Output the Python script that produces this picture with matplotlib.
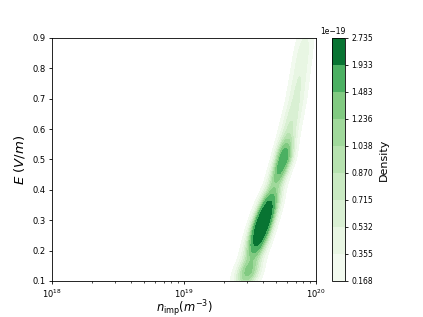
import numpy as np
import matplotlib
matplotlib.use("Agg")
from matplotlib import pyplot as plt

# colourbar / contour levels (units of 1e-19)
levels = [0.168, 0.355, 0.532, 0.715, 0.870, 1.038, 1.236, 1.483, 1.933, 2.735]

# ridge of the distribution: log10(n_imp) centre for a given E
ridge_E = [0.05, 0.10, 0.288, 0.499, 0.697, 0.902, 0.95]
ridge_logn = [19.43, 19.465, 19.595, 19.752, 19.85, 19.92, 19.935]

# density lumps along the ridge
blob_E = [0.125, 0.21, 0.29, 0.37, 0.44, 0.50, 0.60, 0.72, 0.86]
blob_peak = [1.2, 0.8, 2.7, 0.8, 0.45, 1.6, 0.55, 0.45, 0.4]
blob_sE = [0.035, 0.04, 0.055, 0.04, 0.03, 0.045, 0.06, 0.07, 0.07]
blob_su = [0.06, 0.055, 0.05, 0.05, 0.045, 0.045, 0.05, 0.05, 0.05]


def density(logn, E):
    u = logn - np.interp(E, ridge_E, ridge_logn)
    d = np.zeros_like(E)
    for e0, pk, se, su in zip(blob_E, blob_peak, blob_sE, blob_su):
        d += pk * np.exp(-(E - e0) ** 2 / (2 * se ** 2) - u ** 2 / (2 * su ** 2))
    return d


def main():
    lx = np.linspace(18, 20, 600)
    ey = np.linspace(0.1, 0.9, 400)
    LX, EY = np.meshgrid(lx, ey)
    Z = density(LX, EY)
    Z = np.minimum(Z, levels[-1] * 0.999)

    fig = plt.figure(figsize=(4.23, 3.17), dpi=100)
    ax = fig.add_axes([0.1229, 0.1136, 0.6241, 0.7666])
    cax = fig.add_axes([0.785, 0.1136, 0.031, 0.7666])

    cs = ax.contourf(10 ** LX, EY, Z * 1e-19, levels=np.array(levels) * 1e-19, cmap="Greens")
    ax.set_xscale("log")
    ax.set_xlim(1e18, 1e20)
    ax.set_ylim(0.1, 0.9)
    ax.set_yticks(np.arange(0.1, 0.91, 0.1))
    ax.tick_params(labelsize=6, length=2.5, width=0.6, pad=2)
    ax.tick_params(which="minor", length=1.5, width=0.5)
    for s in ax.spines.values():
        s.set_linewidth(0.6)
    ax.set_xlabel(r"$n_{\rm imp} (m^{-3})$", fontsize=8.3)
    ax.xaxis.set_label_coords(0.5, -0.072)
    ax.set_ylabel(r"$E\ (V/m)$", fontsize=9.5, labelpad=4)

    cb = fig.colorbar(cs, cax=cax)
    cb.set_ticks(np.array(levels) * 1e-19)
    cb.ax.tick_params(labelsize=5.5, length=2.5, width=0.6, pad=2)
    cb.ax.yaxis.get_offset_text().set_fontsize(5.5)
    cb.outline.set_linewidth(0.6)
    cb.set_label("Density", fontsize=8)

    fig.savefig("out.png", dpi=100)


if __name__ == "__main__":
    main()
